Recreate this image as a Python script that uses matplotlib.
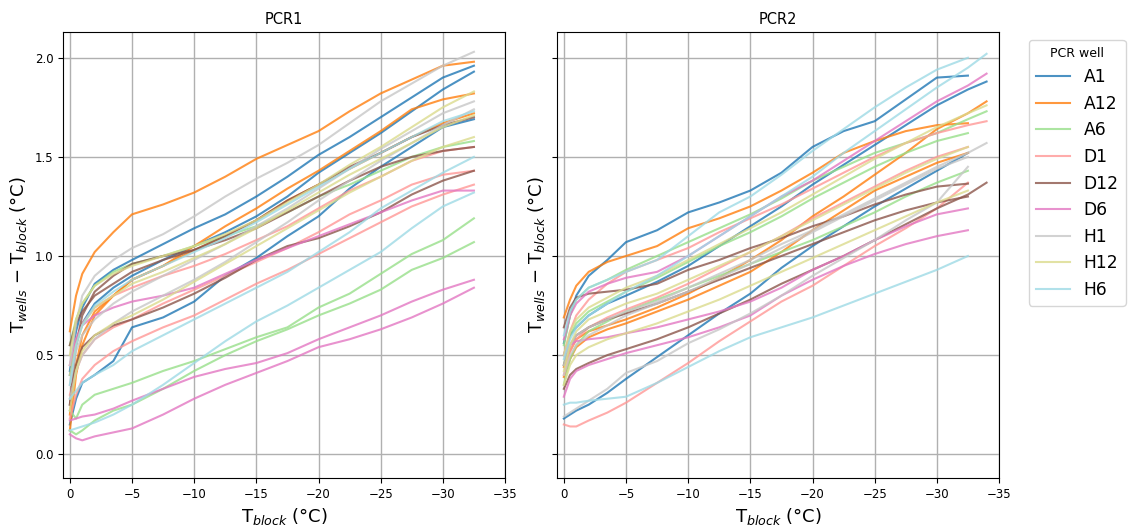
import numpy as np
import matplotlib
matplotlib.use('Agg')
import matplotlib.pyplot as plt

# block temperature (°C) at which the well offsets were sampled
T_BLOCK = [0, -0.5, -1, -2, -3.5, -5, -7.5, -10, -12.5, -15, -17.5, -20,
           -22.5, -25, -27.5, -30, -32.5, -34]

WELLS = ['A1', 'A12', 'A6', 'D1', 'D12', 'D6', 'H1', 'H12', 'H6']

# T_wells - T_block (°C), three runs per well
PCR1_A1 = [
    [0.42, 0.62, 0.74, 0.86, 0.93, 0.98, 1.06, 1.14, 1.21, 1.30, 1.40, 1.51, 1.60, 1.70, 1.80, 1.90, 1.96],
    [0.40, 0.55, 0.66, 0.76, 0.84, 0.90, 0.98, 1.05, 1.12, 1.20, 1.30, 1.42, 1.52, 1.62, 1.73, 1.84, 1.93],
    [0.15, 0.28, 0.36, 0.40, 0.47, 0.64, 0.69, 0.77, 0.90, 0.99, 1.10, 1.20, 1.34, 1.45, 1.55, 1.65, 1.69],
]
PCR1_A12 = [
    [0.62, 0.80, 0.91, 1.02, 1.12, 1.21, 1.26, 1.32, 1.40, 1.49, 1.56, 1.63, 1.73, 1.82, 1.89, 1.96, 1.98],
    [0.20, 0.45, 0.60, 0.72, 0.80, 0.88, 0.95, 1.05, 1.15, 1.24, 1.34, 1.43, 1.53, 1.63, 1.74, 1.79, 1.82],
    [0.12, 0.40, 0.55, 0.70, 0.80, 0.88, 0.95, 1.03, 1.10, 1.18, 1.28, 1.36, 1.44, 1.52, 1.60, 1.67, 1.72],
]
PCR1_A6 = [
    [0.55, 0.68, 0.76, 0.85, 0.92, 0.96, 1.00, 1.05, 1.10, 1.15, 1.22, 1.30, 1.36, 1.43, 1.50, 1.55, 1.58],
    [0.22, 0.18, 0.25, 0.30, 0.33, 0.36, 0.42, 0.47, 0.53, 0.59, 0.64, 0.74, 0.81, 0.91, 1.01, 1.08, 1.19],
    [0.12, 0.10, 0.12, 0.17, 0.22, 0.25, 0.33, 0.42, 0.50, 0.57, 0.63, 0.70, 0.76, 0.83, 0.93, 0.99, 1.07],
]
PCR1_D1 = [
    [0.45, 0.58, 0.66, 0.74, 0.80, 0.84, 0.90, 0.95, 1.01, 1.08, 1.15, 1.24, 1.33, 1.40, 1.48, 1.53, 1.55],
    [0.30, 0.42, 0.50, 0.58, 0.64, 0.68, 0.76, 0.83, 0.90, 0.97, 1.04, 1.12, 1.21, 1.28, 1.36, 1.41, 1.43],
    [0.18, 0.30, 0.38, 0.45, 0.52, 0.57, 0.64, 0.70, 0.78, 0.86, 0.93, 1.01, 1.09, 1.17, 1.25, 1.31, 1.36],
]
PCR1_D12 = [
    [0.25, 0.55, 0.70, 0.82, 0.90, 0.96, 1.00, 1.03, 1.10, 1.18, 1.28, 1.36, 1.45, 1.52, 1.60, 1.66, 1.70],
    [0.55, 0.66, 0.72, 0.80, 0.86, 0.92, 0.98, 1.03, 1.08, 1.14, 1.22, 1.30, 1.38, 1.45, 1.50, 1.53, 1.55],
    [0.25, 0.45, 0.54, 0.60, 0.65, 0.68, 0.74, 0.81, 0.89, 0.98, 1.05, 1.09, 1.15, 1.22, 1.31, 1.38, 1.43],
]
PCR1_D6 = [
    [0.45, 0.58, 0.65, 0.70, 0.74, 0.77, 0.80, 0.84, 0.91, 0.98, 1.04, 1.10, 1.16, 1.22, 1.28, 1.33, 1.33],
    [0.17, 0.18, 0.19, 0.20, 0.23, 0.27, 0.33, 0.39, 0.43, 0.46, 0.51, 0.58, 0.64, 0.70, 0.77, 0.83, 0.88],
    [0.10, 0.08, 0.07, 0.09, 0.11, 0.13, 0.20, 0.28, 0.35, 0.41, 0.47, 0.54, 0.58, 0.63, 0.69, 0.76, 0.84],
]
PCR1_H1 = [
    [0.45, 0.66, 0.80, 0.90, 0.98, 1.04, 1.11, 1.20, 1.30, 1.39, 1.47, 1.56, 1.67, 1.78, 1.87, 1.96, 2.03],
    [0.35, 0.52, 0.60, 0.68, 0.76, 0.82, 0.90, 0.98, 1.06, 1.15, 1.24, 1.34, 1.44, 1.54, 1.63, 1.72, 1.78],
    [0.28, 0.42, 0.50, 0.58, 0.66, 0.72, 0.80, 0.88, 0.97, 1.07, 1.17, 1.28, 1.38, 1.48, 1.57, 1.66, 1.74],
]
PCR1_H12 = [
    [0.50, 0.68, 0.76, 0.85, 0.91, 0.95, 1.00, 1.05, 1.11, 1.18, 1.27, 1.36, 1.46, 1.55, 1.65, 1.75, 1.83],
    [0.40, 0.55, 0.65, 0.74, 0.80, 0.86, 0.92, 0.99, 1.06, 1.14, 1.23, 1.32, 1.41, 1.49, 1.57, 1.65, 1.71],
    [0.22, 0.42, 0.52, 0.60, 0.66, 0.70, 0.78, 0.87, 0.96, 1.05, 1.14, 1.23, 1.32, 1.40, 1.48, 1.55, 1.60],
]
PCR1_H6 = [
    [0.35, 0.55, 0.65, 0.75, 0.82, 0.88, 0.95, 1.02, 1.09, 1.17, 1.26, 1.35, 1.44, 1.52, 1.60, 1.68, 1.73],
    [0.28, 0.32, 0.36, 0.40, 0.45, 0.52, 0.60, 0.68, 0.76, 0.84, 0.92, 1.02, 1.12, 1.24, 1.33, 1.42, 1.50],
    [0.12, 0.13, 0.14, 0.16, 0.20, 0.25, 0.35, 0.46, 0.57, 0.67, 0.75, 0.84, 0.93, 1.02, 1.14, 1.25, 1.32],
]

PCR2_A1 = [
    [0.56, 0.70, 0.80, 0.90, 0.98, 1.07, 1.13, 1.22, 1.27, 1.33, 1.42, 1.55, 1.63, 1.68, 1.79, 1.90, 1.91],
    [0.50, 0.60, 0.64, 0.70, 0.76, 0.80, 0.87, 0.95, 1.05, 1.15, 1.25, 1.36, 1.46, 1.56, 1.66, 1.76, 1.84, 1.88],
    [0.18, 0.20, 0.22, 0.25, 0.31, 0.38, 0.49, 0.60, 0.71, 0.81, 0.94, 1.05, 1.15, 1.25, 1.34, 1.43, 1.52],
]
PCR2_A12 = [
    [0.69, 0.78, 0.85, 0.92, 0.97, 1.00, 1.05, 1.14, 1.19, 1.25, 1.33, 1.42, 1.52, 1.58, 1.63, 1.66, 1.67],
    [0.44, 0.52, 0.58, 0.62, 0.65, 0.68, 0.74, 0.81, 0.89, 0.98, 1.08, 1.20, 1.30, 1.41, 1.52, 1.64, 1.72, 1.78],
    [0.39, 0.48, 0.54, 0.59, 0.63, 0.66, 0.72, 0.78, 0.85, 0.92, 1.02, 1.13, 1.23, 1.33, 1.40, 1.47, 1.52],
]
PCR2_A6 = [
    [0.55, 0.70, 0.78, 0.84, 0.88, 0.93, 1.00, 1.07, 1.14, 1.21, 1.29, 1.38, 1.45, 1.52, 1.57, 1.62, 1.69, 1.73],
    [0.45, 0.60, 0.66, 0.72, 0.77, 0.82, 0.89, 0.97, 1.05, 1.12, 1.20, 1.29, 1.37, 1.45, 1.52, 1.58, 1.62],
    [0.35, 0.48, 0.55, 0.62, 0.67, 0.72, 0.78, 0.84, 0.90, 0.96, 1.02, 1.08, 1.15, 1.22, 1.30, 1.37, 1.43],
]
PCR2_D1 = [
    [0.50, 0.62, 0.70, 0.78, 0.86, 0.92, 0.98, 1.04, 1.12, 1.19, 1.26, 1.34, 1.42, 1.50, 1.57, 1.62, 1.66, 1.68],
    [0.40, 0.52, 0.58, 0.64, 0.69, 0.73, 0.79, 0.86, 0.94, 1.02, 1.10, 1.19, 1.27, 1.35, 1.43, 1.50, 1.55],
    [0.15, 0.14, 0.14, 0.17, 0.21, 0.26, 0.36, 0.46, 0.57, 0.67, 0.77, 0.85, 0.95, 1.05, 1.14, 1.24, 1.37],
]
PCR2_D12 = [
    [0.64, 0.74, 0.79, 0.81, 0.82, 0.83, 0.86, 0.93, 0.98, 1.04, 1.09, 1.15, 1.20, 1.26, 1.31, 1.35, 1.365],
    [0.33, 0.40, 0.43, 0.46, 0.50, 0.53, 0.58, 0.64, 0.71, 0.78, 0.86, 0.93, 1.00, 1.08, 1.16, 1.24, 1.31, 1.37],
    [0.45, 0.55, 0.60, 0.64, 0.68, 0.71, 0.76, 0.82, 0.88, 0.94, 1.00, 1.06, 1.12, 1.18, 1.23, 1.27, 1.30],
]
PCR2_D6 = [
    [0.58, 0.70, 0.76, 0.82, 0.86, 0.89, 0.92, 1.00, 1.10, 1.20, 1.30, 1.38, 1.48, 1.58, 1.68, 1.78, 1.86, 1.92],
    [0.50, 0.55, 0.57, 0.58, 0.59, 0.61, 0.64, 0.68, 0.72, 0.77, 0.84, 0.93, 1.00, 1.08, 1.15, 1.21, 1.24],
    [0.29, 0.38, 0.42, 0.45, 0.48, 0.51, 0.55, 0.59, 0.64, 0.70, 0.80, 0.88, 0.95, 1.01, 1.06, 1.10, 1.13],
]
PCR2_H1 = [
    [0.19, 0.21, 0.23, 0.27, 0.33, 0.41, 0.47, 0.56, 0.63, 0.71, 0.80, 0.90, 0.99, 1.08, 1.18, 1.27, 1.45],
    [0.45, 0.55, 0.60, 0.64, 0.68, 0.72, 0.77, 0.84, 0.91, 0.98, 1.06, 1.13, 1.21, 1.29, 1.37, 1.45, 1.52, 1.57],
    [0.40, 0.50, 0.55, 0.60, 0.65, 0.70, 0.76, 0.82, 0.89, 0.96, 1.04, 1.12, 1.20, 1.28, 1.36, 1.44, 1.50],
]
PCR2_H12 = [
    [0.50, 0.62, 0.68, 0.74, 0.79, 0.84, 0.90, 0.98, 1.06, 1.14, 1.22, 1.31, 1.40, 1.49, 1.57, 1.65, 1.72, 1.76],
    [0.35, 0.45, 0.50, 0.54, 0.58, 0.61, 0.66, 0.72, 0.78, 0.85, 0.92, 0.99, 1.06, 1.13, 1.20, 1.27, 1.33],
    [0.42, 0.55, 0.62, 0.68, 0.72, 0.76, 0.81, 0.88, 0.95, 1.02, 1.10, 1.18, 1.26, 1.34, 1.42, 1.49, 1.55],
]
PCR2_H6 = [
    [0.60, 0.72, 0.78, 0.84, 0.88, 0.92, 0.98, 1.10, 1.22, 1.30, 1.41, 1.53, 1.64, 1.75, 1.85, 1.94, 2.00],
    [0.48, 0.58, 0.64, 0.70, 0.76, 0.82, 0.90, 1.00, 1.10, 1.20, 1.30, 1.40, 1.52, 1.63, 1.74, 1.85, 1.95, 2.02],
    [0.25, 0.26, 0.26, 0.27, 0.28, 0.29, 0.36, 0.44, 0.52, 0.59, 0.64, 0.69, 0.75, 0.81, 0.87, 0.93, 1.00],
]

PCR1 = [PCR1_A1, PCR1_A12, PCR1_A6, PCR1_D1, PCR1_D12, PCR1_D6, PCR1_H1, PCR1_H12, PCR1_H6]
PCR2 = [PCR2_A1, PCR2_A12, PCR2_A6, PCR2_D1, PCR2_D12, PCR2_D6, PCR2_H1, PCR2_H12, PCR2_H6]

# tab20 shades used for each well
cmap = plt.get_cmap('tab20')
COLORS = [cmap(i) for i in (0, 2, 5, 7, 10, 12, 15, 17, 19)]


def plot_runs(ax, runs, title):
    for well_runs, color, well in zip(runs, COLORS, WELLS):
        for i, run in enumerate(well_runs):
            ax.plot(T_BLOCK[:len(run)], run, color=color, lw=1.5, alpha=0.8,
                    label=well if i == 0 else None)
    ax.set_title(title, fontsize=10.5)
    ax.set_xlim(0.55, -35)
    ax.set_ylim(-0.12, 2.13)
    ax.set_xticks(np.arange(0, -36, -5))
    ax.set_yticks(np.arange(0, 2.01, 0.5))
    ax.tick_params(labelsize=8.5)
    ax.grid(True, color='#b0b0b0', lw=1)
    ax.set_xlabel(r'T$_{block}$ (°C)', fontsize=13)
    ax.set_ylabel(r'T$_{wells}$ $-$ T$_{block}$ (°C)', fontsize=13)


fig = plt.figure(figsize=(11.3, 5.28), dpi=100)
ax1 = fig.add_axes([63 / 1130, 1 - 478 / 528, 442 / 1130, 446 / 528])
ax2 = fig.add_axes([557 / 1130, 1 - 478 / 528, 442 / 1130, 446 / 528], sharey=ax1)

plot_runs(ax1, PCR1, 'PCR1')
plot_runs(ax2, PCR2, 'PCR2')
ax2.tick_params(labelleft=False)

handles, labels = ax2.get_legend_handles_labels()
fig.legend(handles, labels, title='PCR well', loc='upper left',
           bbox_to_anchor=(1029 / 1130, 1 - 40 / 528), borderaxespad=0,
           fontsize=12.3, title_fontsize=9)

fig.savefig('out.png', dpi=100)
